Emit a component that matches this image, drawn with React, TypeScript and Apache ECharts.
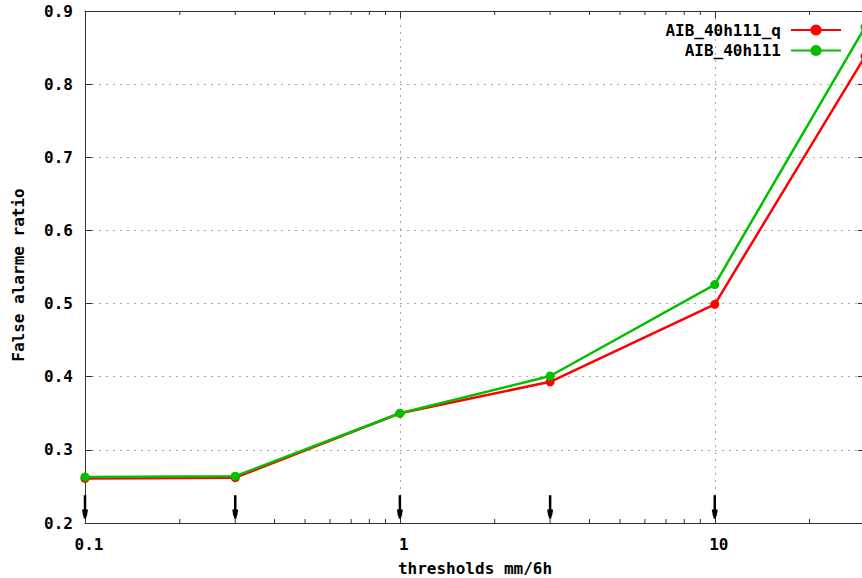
import React, { useEffect, useRef } from "react";
import * as echarts from "echarts";

const xValues = [0.1, 0.3, 1, 3, 10, 30];
const redName = "AIB_40h111_q";
const greenName = "AIB_40h111";
const redValues = [0.261, 0.262, 0.35, 0.393, 0.499, 0.838];
const greenValues = [0.263, 0.264, 0.35, 0.401, 0.526, 0.878];
const arrowX = [0.1, 0.3, 1, 3, 10];
const arrowFrom = 0.238;
const arrowTo = 0.206;
const minorTickX = [0.2, 0.3, 0.4, 0.5, 0.6, 0.7, 0.8, 0.9, 2, 3, 4, 5, 6, 7, 8, 9, 20];
const yMin = 0.2;
const yMax = 0.9;
const xMin = 0.1;
const xMax = 30;
const xTitle = "thresholds mm/6h";
const yTitle = "False alarme ratio";

const FONT = "DejaVu Sans Mono";
const AXIS_COLOR = "#333";

export default function App() {
  const ref = useRef<HTMLDivElement>(null);
  useEffect(() => {
    if (!ref.current) return;
    const chart = echarts.init(ref.current, null, { renderer: "svg" });
    const textStyle = { fontFamily: FONT, fontWeight: "bold", fontSize: 16, color: "#000" };
    const option: any = {
      animation: false,
      backgroundColor: "#fff",
      grid: { left: 85, top: 11, width: 780, height: 512, containLabel: false, outerBoundsMode: "none" },
      legend: {
        data: [redName, greenName],
        orient: "vertical",
        align: "right",
        right: 15,
        top: 17,
        itemWidth: 50,
        itemHeight: 14,
        itemGap: 4.5,
        textStyle: { ...textStyle, padding: [0, 5, 0, 0] },
      },
      xAxis: [
        {
          type: "log",
          logBase: 10,
          min: xMin,
          max: xMax,
          position: "bottom",
          name: xTitle,
          nameLocation: "middle",
          nameGap: 37,
          nameTextStyle: { ...textStyle, lineHeight: 16 },
          axisLine: { show: true, lineStyle: { color: AXIS_COLOR, width: 1 } },
          axisTick: { show: true, inside: true, length: 7, lineStyle: { color: AXIS_COLOR } },
          axisLabel: {
            ...textStyle,
            margin: 13,
            padding: [0, 0, 0, 8],
            formatter: (v: number) => {
              const l = Math.log10(v);
              if (Math.abs(l - Math.round(l)) > 1e-6) return "";
              return String(v);
            },
          },
          splitLine: { show: true, lineStyle: { color: "#a8a8a8", type: [2, 5], width: 1 } },
        },
        {
          type: "log",
          logBase: 10,
          min: xMin,
          max: xMax,
          position: "top",
          axisLine: { show: true, lineStyle: { color: AXIS_COLOR, width: 1 } },
          axisTick: { show: true, inside: true, length: 7, lineStyle: { color: AXIS_COLOR } },
          axisLabel: { show: false },
          splitLine: { show: false },
        },
      ],
      yAxis: [
        {
          type: "value",
          min: yMin,
          max: yMax,
          interval: 0.1,
          position: "left",
          name: yTitle,
          nameLocation: "middle",
          nameGap: 59,
          nameTextStyle: { ...textStyle, lineHeight: 16, padding: [0, 16, 0, 0] },
          axisLine: { show: true, lineStyle: { color: AXIS_COLOR, width: 1 } },
          axisTick: { show: true, inside: true, length: 7, lineStyle: { color: AXIS_COLOR } },
          axisLabel: { ...textStyle, margin: 12, formatter: (v: number) => v.toFixed(1) },
          splitLine: { show: true, lineStyle: { color: "#a8a8a8", type: [2, 5], width: 1 } },
        },
        {
          type: "value",
          min: yMin,
          max: yMax,
          interval: 0.1,
          position: "right",
          axisLine: { show: true, lineStyle: { color: AXIS_COLOR, width: 1 } },
          axisTick: { show: true, inside: true, length: 7, lineStyle: { color: AXIS_COLOR } },
          axisLabel: { show: false },
          splitLine: { show: false },
        },
      ],
      series: [
        {
          type: "custom",
          silent: true,
          xAxisIndex: 0,
          yAxisIndex: 0,
          data: minorTickX.map((x) => [x, yMin]),
          renderItem: (params: any, api: any) => {
            const v = api.value(0);
            const b = api.coord([v, yMin]);
            const t = api.coord([v, yMax]);
            return {
              type: "group",
              children: [
                { type: "line", shape: { x1: b[0], y1: b[1], x2: b[0], y2: b[1] - 4 }, style: { stroke: AXIS_COLOR, lineWidth: 1 } },
                { type: "line", shape: { x1: t[0], y1: t[1], x2: t[0], y2: t[1] + 4 }, style: { stroke: AXIS_COLOR, lineWidth: 1 } },
              ],
            };
          },
        },
        {
          type: "custom",
          silent: true,
          xAxisIndex: 0,
          yAxisIndex: 0,
          data: arrowX.map((x) => [x, arrowFrom, arrowTo]),
          renderItem: (params: any, api: any) => {
            const v = api.value(0);
            const a = api.coord([v, api.value(1)]);
            const b = api.coord([v, api.value(2)]);
            return {
              type: "group",
              children: [
                { type: "line", shape: { x1: a[0], y1: a[1], x2: b[0], y2: b[1] }, style: { stroke: "#000", lineWidth: 2.5 } },
                {
                  type: "polygon",
                  shape: { points: [[b[0] - 3, b[1] - 9], [b[0] + 3, b[1] - 9], [b[0] + 2, b[1] - 3], [b[0], b[1]], [b[0] - 2, b[1] - 3]] },
                  style: { fill: "#000" },
                },
              ],
            };
          },
        },
        {
          name: redName,
          type: "line",
          data: xValues.map((x, i) => [x, redValues[i]]),
          color: "#ff0000",
          lineStyle: { width: 2.5, color: "#ff0000" },
          symbol: "circle",
          symbolSize: 9,
          itemStyle: { color: "#ff0000" },
          clip: true,
        },
        {
          name: greenName,
          type: "line",
          data: xValues.map((x, i) => [x, greenValues[i]]),
          color: "#00c000",
          lineStyle: { width: 2.5, color: "#00c000" },
          symbol: "circle",
          symbolSize: 9,
          itemStyle: { color: "#00c000" },
          clip: true,
        },
      ],
    };
    chart.setOption(option);
    return () => chart.dispose();
  }, []);
  return (
    <div
      ref={ref}
      style={{ position: "fixed", left: 0, top: 0, width: 862, height: 578, background: "#fff" }}
    />
  );
}
